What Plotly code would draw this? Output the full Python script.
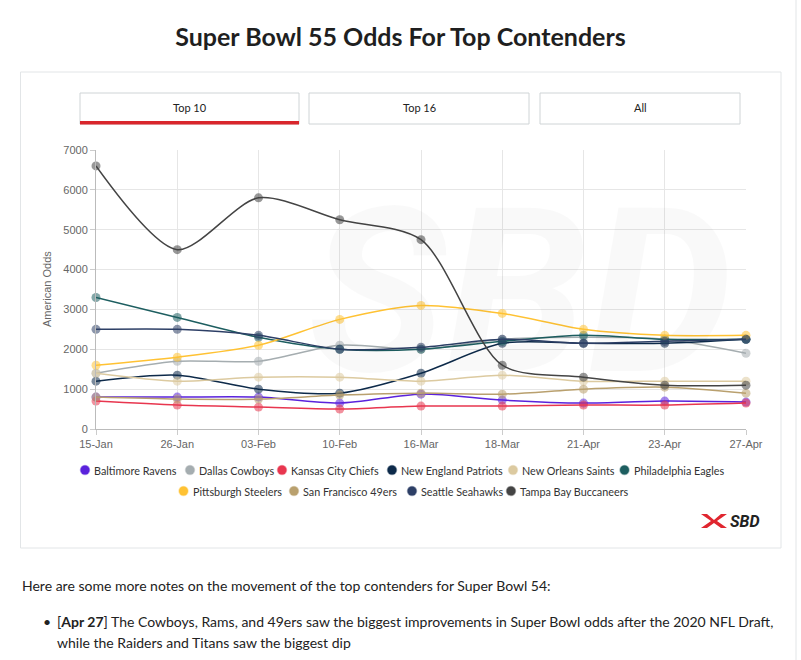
import plotly.graph_objects as go

dates = ["15-Jan", "26-Jan", "03-Feb", "10-Feb", "16-Mar", "18-Mar", "21-Apr", "23-Apr", "27-Apr"]

teams = ["Baltimore Ravens", "Dallas Cowboys", "Kansas City Chiefs", "New England Patriots",
         "New Orleans Saints", "Philadelphia Eagles", "Pittsburgh Steelers",
         "San Francisco 49ers", "Seattle Seahawks", "Tampa Bay Buccaneers"]

ravens = [800, 800, 800, 650, 875, 725, 650, 700, 675]
cowboys = [1400, 1700, 1700, 2100, 2000, 2250, 2300, 2250, 1900]
chiefs = [700, 600, 550, 500, 575, 575, 600, 600, 650]
patriots = [1200, 1350, 1000, 900, 1400, 2150, 2150, 2150, 2250]
saints = [1400, 1200, 1300, 1300, 1200, 1350, 1200, 1200, 1200]
eagles = [3300, 2800, 2300, 2000, 2000, 2200, 2350, 2250, 2250]
steelers = [1600, 1800, 2100, 2750, 3100, 2900, 2500, 2350, 2350]
niners = [800, 750, 750, 850, 900, 875, 1000, 1050, 900]
seahawks = [2500, 2500, 2350, 2000, 2050, 2250, 2150, 2200, 2250]
bucs = [6600, 4500, 5800, 5250, 4750, 1600, 1300, 1100, 1100]

series = [ravens, cowboys, chiefs, patriots, saints, eagles, steelers, niners, seahawks, bucs]
colors = ["#5a22dc", "#a5adb0", "#e8364f", "#0d2a4a", "#dccaa0", "#1d5e60",
          "#ffc233", "#b9a06e", "#2d3f66", "#444444"]

y_ticks = [0, 1000, 2000, 3000, 4000, 5000, 6000, 7000]

# legend layout (pixel centres of the legend dots, two rows)
legend_dot_x = [85, 190, 282, 392, 513, 624.5, 183.5, 294, 412, 511]
legend_row_y = [470, 470, 470, 470, 470, 470, 491, 491, 491, 491]

# plot area in pixels
L, R, T, B = 96, 746, 150, 429
W, H = 801, 660


def px_x(p):
    return (p - L) / (R - L)


def px_y(p):
    return (B - p) / (B - T)


def rgba(h, a):
    h = h.lstrip("#")
    return "rgba(%d,%d,%d,%s)" % (int(h[0:2], 16), int(h[2:4], 16), int(h[4:6], 16), a)


fig = go.Figure()

for name, vals, c in zip(teams, series, colors):
    fig.add_trace(go.Scatter(
        x=dates, y=vals, mode="lines+markers", name=name,
        line=dict(color=c, width=1.5, shape="spline", smoothing=0.8),
        marker=dict(size=9, color=rgba(c, 0.55), line=dict(width=0)),
        cliponaxis=False, showlegend=False,
    ))

shapes = []
annotations = []

# outer container
shapes.append(dict(type="rect", xref="paper", yref="paper",
                   x0=px_x(20.5), x1=px_x(781), y0=px_y(548), y1=px_y(72),
                   line=dict(color="#e2e5e7", width=1), fillcolor="rgba(0,0,0,0)", layer="below"))
# page right rule
shapes.append(dict(type="line", xref="paper", yref="paper",
                   x0=px_x(796), x1=px_x(796), y0=px_y(660), y1=px_y(0),
                   line=dict(color="#e2e5e7", width=1)))
# buttons
buttons = [("Top 10", 80, 299), ("Top 16", 309, 529), ("All", 540, 740)]
for i, (lab, x0, x1) in enumerate(buttons):
    shapes.append(dict(type="rect", xref="paper", yref="paper",
                       x0=px_x(x0), x1=px_x(x1), y0=px_y(124), y1=px_y(93),
                       line=dict(color="#cfd4d6", width=1), fillcolor="white"))
    if i == 0:
        shapes.append(dict(type="rect", xref="paper", yref="paper",
                           x0=px_x(x0), x1=px_x(x1), y0=px_y(124.5), y1=px_y(121),
                           line=dict(width=0), fillcolor="#d9262c"))
    annotations.append(dict(text=lab, xref="paper", yref="paper",
                            x=px_x((x0 + x1) / 2), y=px_y(108), showarrow=False,
                            xanchor="center", yanchor="middle",
                            font=dict(family="Lato", size=11, color="#222222")))

# legend (dots + labels)
lfont = dict(family="Lato", size=10.8, color="#333333")
for name, c, dx, dy in zip(teams, colors, legend_dot_x, legend_row_y):
    shapes.append(dict(type="circle", xref="paper", yref="paper",
                       x0=px_x(dx - 4.5), x1=px_x(dx + 4.5),
                       y0=px_y(dy + 4.5), y1=px_y(dy - 4.5),
                       fillcolor=c, line=dict(color=rgba(c, 0.4), width=1.5)))
    annotations.append(dict(text=name, xref="paper", yref="paper",
                            x=px_x(dx + 7), y=px_y(dy), showarrow=False,
                            xanchor="left", yanchor="middle", font=lfont))

# SBD logo icon (red X-like mark)
icon = [(701, 514), (707, 514), (714, 520), (721, 514), (727, 514),
        (717, 521), (727, 528), (721, 528), (714, 523), (707, 528), (701, 528), (711, 521)]
path = "M " + " L ".join("%f,%f" % (px_x(a), px_y(b)) for a, b in icon) + " Z"
shapes.append(dict(type="path", xref="paper", yref="paper", path=path,
                   fillcolor="#e0262f", line=dict(width=0)))
annotations.append(dict(text="<b><i>SBD</i></b>", xref="paper", yref="paper",
                        x=px_x(728), y=px_y(521), showarrow=False,
                        xanchor="left", yanchor="middle",
                        font=dict(family="Roboto", size=16, color="#222222")))

# watermark
annotations.append(dict(text="<b><i>SBD</i></b>", xref="paper", yref="paper",
                        x=px_x(520), y=px_y(292), showarrow=False,
                        xanchor="center", yanchor="middle",
                        font=dict(family="Roboto", size=230, color="rgba(0,0,0,0.025)")))

# y axis title
annotations.append(dict(text="American Odds", xref="paper", yref="paper",
                        x=px_x(47), y=px_y(289), showarrow=False, textangle=-90,
                        xanchor="center", yanchor="middle",
                        font=dict(family="Liberation Sans", size=11, color="#666666")))

# page text
tfont = dict(family="Lato", size=14, color="#222222")
annotations.append(dict(text="Here are some more notes on the movement of the top contenders for Super Bowl 54:",
                        xref="paper", yref="paper", x=px_x(20), y=px_y(585),
                        showarrow=False, xanchor="left", yanchor="middle", font=tfont))
annotations.append(dict(text="•", xref="paper", yref="paper", x=px_x(41), y=px_y(621),
                        showarrow=False, xanchor="left", yanchor="middle", font=tfont))
annotations.append(dict(text="[<b>Apr 27</b>] The Cowboys, Rams, and 49ers saw the biggest improvements in Super Bowl odds after the 2020 NFL Draft,",
                        xref="paper", yref="paper", x=px_x(55), y=px_y(621),
                        showarrow=False, xanchor="left", yanchor="middle", font=tfont))
annotations.append(dict(text="while the Raiders and Titans saw the biggest dip",
                        xref="paper", yref="paper", x=px_x(55), y=px_y(642),
                        showarrow=False, xanchor="left", yanchor="middle", font=tfont))

fig.update_layout(
    width=W, height=H,
    margin=dict(l=L, r=W - R, t=T, b=H - B, pad=0, autoexpand=False),
    paper_bgcolor="white", plot_bgcolor="white",
    title=dict(text="<b>Super Bowl 55 Odds For Top Contenders</b>", x=0.5, xref="container",
               y=1 - 37 / H, yref="container", xanchor="center", yanchor="middle",
               font=dict(family="Lato", size=25, color="#1f1f1f")),
    xaxis=dict(range=[0, 8], showgrid=True, gridcolor="#e6e6e6", gridwidth=1,
               showline=True, linecolor="#bbbbbb", linewidth=1,
               ticks="outside", ticklen=5, tickcolor="#cccccc", tickangle=0,
               tickfont=dict(family="Liberation Sans", size=11, color="#666666"),
               zeroline=False, fixedrange=True),
    yaxis=dict(range=[0, 7000], tickvals=y_ticks, showgrid=True, gridcolor="#e6e6e6",
               showline=True, linecolor="#bbbbbb", linewidth=1,
               ticks="outside", ticklen=5, tickcolor="#cccccc",
               tickfont=dict(family="Liberation Sans", size=11, color="#666666"),
               zeroline=False, fixedrange=True),
    shapes=shapes,
    annotations=annotations,
    showlegend=False,
)

fig.write_html("out.html", config={"displayModeBar": False},
               post_script="document.body.style.margin='0px';document.body.style.overflow='hidden';")
